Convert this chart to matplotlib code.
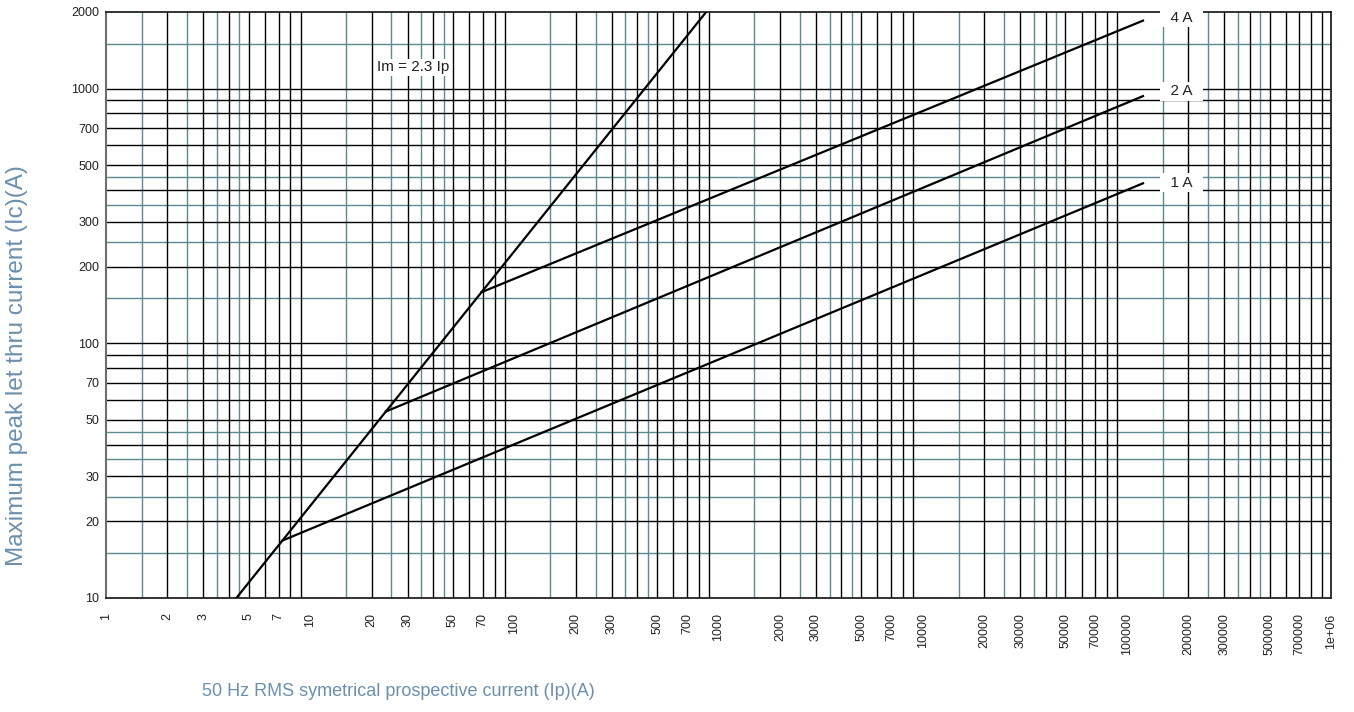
import matplotlib
matplotlib.use('Agg')
import matplotlib.pyplot as plt

plt.rcParams['font.family'] = ['Liberation Sans', 'DejaVu Sans']

# Im = 2.3 Ip line, end points across the plotted range
im_ip = [4.35, 870]
im_ic = [10, 2000]

# let-through curves per rating: knee on the Im line, then out to ~120 kA
curve_names = ['1 A', '2 A', '4 A']
curve_ip = [[7.3, 120000], [23.5, 120000], [69, 120000]]
curve_ic = [[16.8, 425], [54, 935], [158.7, 1850]]
label_ic = [428, 975, 1900]
label_ip = 185000

x_tick_values = [1, 2, 3, 5, 7, 10, 20, 30, 50, 70, 100, 200, 300, 500, 700,
                 1000, 2000, 3000, 5000, 7000, 10000, 20000, 30000, 50000, 70000,
                 100000, 200000, 300000, 500000, 700000, 1000000]
x_tick_labels = [str(v) for v in x_tick_values[:-1]] + ['1e+06']
y_tick_values = [10, 20, 30, 50, 70, 100, 200, 300, 500, 700, 1000, 2000]

teal = '#5b8a93'
title_blue = '#6b8fae'

fig = plt.figure(figsize=(13.54, 7.12), dpi=100)
ax = fig.add_axes([106 / 1354, 1 - 598 / 712, 1225 / 1354, 586 / 712])
ax.set_xscale('log')
ax.set_yscale('log')
ax.set_xlim(1, 1e6)
ax.set_ylim(10, 2000)

# graph-paper grid: black at whole multiples, teal at the half steps
for decade in [1, 10, 100, 1000, 10000, 100000]:
    for m in [1.5, 2.5, 3.5, 4.5]:
        ax.axvline(m * decade, color=teal, lw=1.0, zorder=1)
    for m in range(2, 10):
        ax.axvline(m * decade, color='black', lw=1.0, zorder=1.2)
for decade in [10, 100, 1000]:
    for m in [1.5, 2.5, 3.5, 4.5]:
        if m * decade < 2000:
            ax.axhline(m * decade, color=teal, lw=1.0, zorder=1)
    for m in range(1, 10):
        if 10 < m * decade < 2000:
            ax.axhline(m * decade, color='black', lw=1.0, zorder=1.2)

ax.plot(im_ip, im_ic, color='black', lw=1.6, zorder=4)
for ip, ic in zip(curve_ip, curve_ic):
    ax.plot(ip, ic, color='black', lw=1.6, zorder=4)

for name, y in zip(curve_names, label_ic):
    ax.text(label_ip, y, '  ' + name + '  ', fontsize=11, ha='center', va='center',
            color='#222222', zorder=5,
            bbox=dict(boxstyle='square,pad=0.15', fc='white', ec='none'))
ax.text(32, 1215, 'Im = 2.3 Ip', fontsize=11, ha='center', va='center',
        color='#222222', zorder=5,
        bbox=dict(boxstyle='square,pad=0.1', fc='white', ec='none'))

ax.minorticks_off()
ax.set_xticks(x_tick_values, x_tick_labels, rotation=90, fontsize=9, color='#222222')
ax.set_yticks(y_tick_values, [str(v) for v in y_tick_values], fontsize=9, color='#222222')
ax.tick_params(axis='x', length=0, pad=11)
ax.tick_params(axis='y', length=0, pad=5)

for side in ['top', 'right', 'bottom']:
    ax.spines[side].set_color('#222222')
    ax.spines[side].set_linewidth(1.3)
ax.spines['left'].set_color('#6e6e6e')
ax.spines['left'].set_linewidth(1.5)

fig.text(398 / 1354, 1 - 692 / 712, '50 Hz RMS symetrical prospective current (Ip)(A)',
         fontsize=13, color=title_blue, ha='center', va='center')
fig.text(17 / 1354, 1 - 366 / 712, 'Maximum peak let thru current (Ic)(A)',
         fontsize=17.5, color=title_blue, ha='center', va='center', rotation=90)

fig.savefig('out.png', dpi=100)
